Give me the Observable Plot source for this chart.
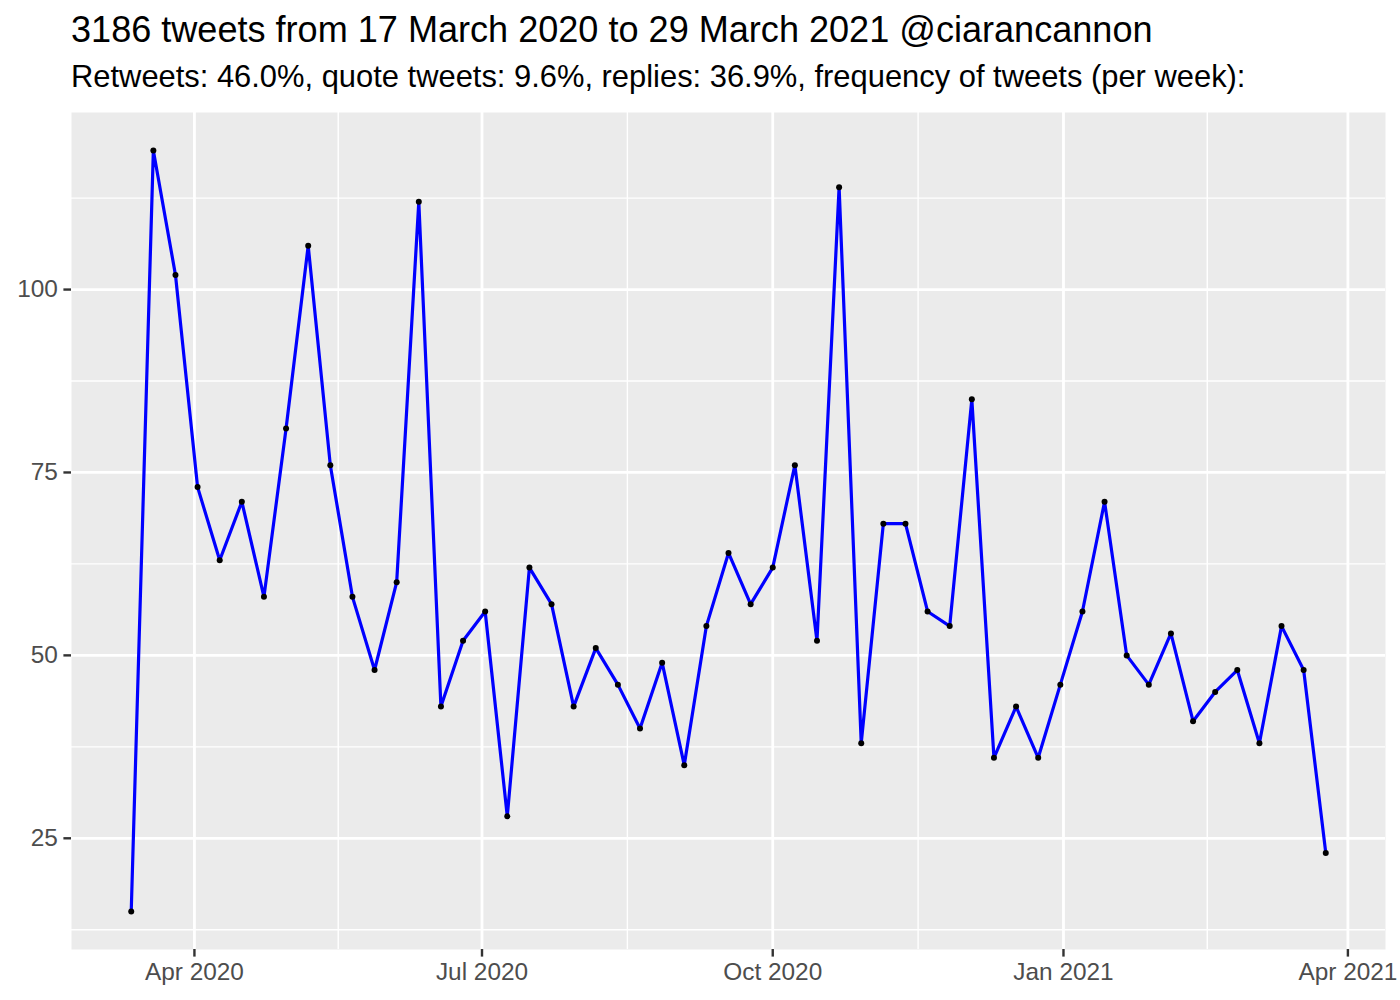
<!DOCTYPE html>
<html><head><meta charset="utf-8">
<script src="https://cdn.jsdelivr.net/npm/d3@7"></script>
<script src="https://cdn.jsdelivr.net/npm/@observablehq/plot@0.6"></script>
<style>
body{margin:0;background:#fff;}
#wrap{position:relative;width:1400px;height:1000px;font-family:"Liberation Sans",Arial,sans-serif;overflow:hidden;}
#title{position:absolute;left:71px;top:12px;font-size:36.1px;line-height:36.1px;white-space:nowrap;color:#000}
#subtitle{position:absolute;left:71px;top:62px;font-size:30.9px;line-height:30.9px;white-space:nowrap;color:#000}
#chart{position:absolute;left:0;top:100px;}
</style></head>
<body>
<div id="wrap">
<div id="title">3186 tweets from 17 March 2020 to 29 March 2021 @ciarancannon</div>
<div id="subtitle">Retweets: 46.0%, quote tweets: 9.6%, replies: 36.9%, frequency of tweets (per week):</div>
<div id="chart"></div>
</div>
<script>
const weekDates = [
"2020-03-12","2020-03-19","2020-03-26","2020-04-02","2020-04-09","2020-04-16","2020-04-23","2020-04-30",
"2020-05-07","2020-05-14","2020-05-21","2020-05-28","2020-06-04","2020-06-11","2020-06-18","2020-06-25",
"2020-07-02","2020-07-09","2020-07-16","2020-07-23","2020-07-30","2020-08-06","2020-08-13","2020-08-20",
"2020-08-27","2020-09-03","2020-09-10","2020-09-17","2020-09-24","2020-10-01","2020-10-08","2020-10-15",
"2020-10-22","2020-10-29","2020-11-05","2020-11-12","2020-11-19","2020-11-26","2020-12-03","2020-12-10",
"2020-12-17","2020-12-24","2020-12-31","2021-01-07","2021-01-14","2021-01-21","2021-01-28","2021-02-04",
"2021-02-11","2021-02-18","2021-02-25","2021-03-04","2021-03-11","2021-03-18","2021-03-25"];
const tweetCounts = [
15,119,102,73,63,71,58,81,106,76,
58,48,60,112,43,52,56,28,62,57,
43,51,46,40,49,35,54,64,57,62,
76,52,114,38,68,68,56,54,85,36,
43,36,46,56,71,50,46,53,41,45,
48,38,54,48,23];
const yMajorTicks = [25, 50, 75, 100];
const yMinorTicks = [12.5, 37.5, 62.5, 87.5, 112.5];
const xMajorTicks = ["2020-04-01","2020-07-01","2020-10-01","2021-01-01","2021-04-01"];
const xMinorTicks = ["2020-05-16T12:00:00Z","2020-08-16T00:00:00Z","2020-11-16T00:00:00Z","2021-02-15T12:00:00Z"];

const data = weekDates.map((d, i) => ({date: new Date(d), n: tweetCounts[i]}));
const xMaj = xMajorTicks.map(d => new Date(d));
const xMin = xMinorTicks.map(d => new Date(d));

const t0 = d3.min(data, d => +d.date), t1 = d3.max(data, d => +d.date);
const tPad = (t1 - t0) * 0.05;
const v0 = d3.min(data, d => d.n), v1 = d3.max(data, d => d.n);
const vPad = (v1 - v0) * 0.05;

const chart = Plot.plot({
  width: 1400,
  height: 900,
  marginTop: 12,
  marginBottom: 51,
  marginLeft: 71,
  marginRight: 15,
  style: {fontFamily: "'Liberation Sans', Arial, sans-serif", fontSize: "24.4px", background: "transparent"},
  x: {type: "utc", domain: [new Date(t0 - tPad), new Date(t1 + tPad)], label: null},
  y: {domain: [v0 - vPad, v1 + vPad], label: null},
  marks: [
    Plot.frame({fill: "#EBEBEB", stroke: null}),
    Plot.ruleY(yMinorTicks, {stroke: "#FFFFFF", strokeWidth: 1.4}),
    Plot.ruleX(xMin, {stroke: "#FFFFFF", strokeWidth: 1.4}),
    Plot.ruleY(yMajorTicks, {stroke: "#FFFFFF", strokeWidth: 2.8}),
    Plot.ruleX(xMaj, {stroke: "#FFFFFF", strokeWidth: 2.8}),
    Plot.axisY({ticks: yMajorTicks, tickSize: 7.6, tickPadding: 6, stroke: "#333333", strokeWidth: 2.4, fill: "#4D4D4D", fontSize: 24.4, label: null}),
    Plot.axisX({ticks: xMaj, tickSize: 7.6, tickPadding: 6, stroke: "#333333", strokeWidth: 2.4, fill: "#4D4D4D", fontSize: 24.4, tickFormat: d3.utcFormat("%b %Y"), label: null}),
    Plot.line(data, {x: "date", y: "n", stroke: "#0000FF", strokeWidth: 3.2}),
    Plot.dot(data, {x: "date", y: "n", fill: "#000000", r: 3, stroke: null})
  ]
});
document.getElementById("chart").appendChild(chart);
</script>
</body></html>
